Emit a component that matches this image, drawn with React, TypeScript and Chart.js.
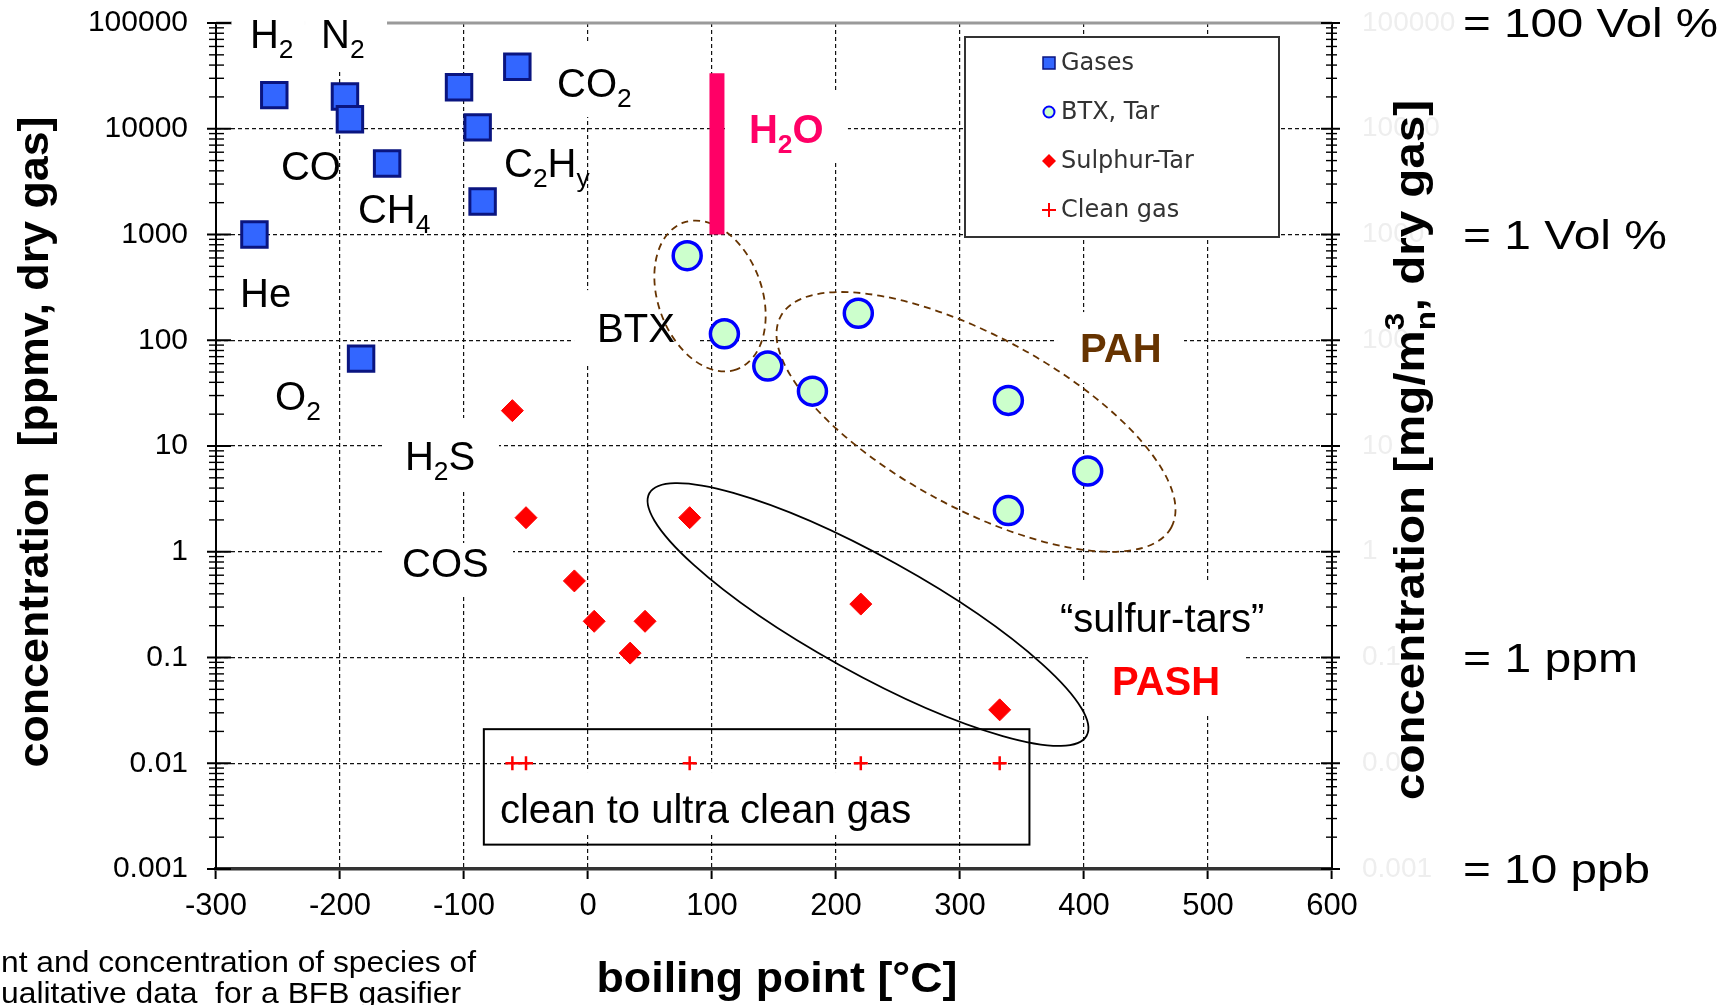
import React, { useEffect, useRef } from 'react';
import { Chart, registerables } from 'chart.js';

Chart.register(...registerables);

// ---------------- data ----------------
const seriesNames = ['Gases', 'BTX, Tar', 'Sulphur-Tar', 'Clean gas'];

// He, H2, N2, CO, O2, CH4, C2H4, C2H6, C2H2, CO2
const gasBoilingPoints = [-269, -253, -196, -192, -183, -162, -104, -89, -85, -57];
const gasConcentrations = [1000, 20800, 20200, 12300, 67, 4700, 24700, 10300, 2050, 38500];

const tarBoilingPoints = [80, 110, 145, 181, 218, 339, 339, 403];
const tarConcentrations = [630, 115, 57, 33, 180, 27, 2.45, 5.8];

const sulphurBoilingPoints = [-61, -50, -11, 5, 34, 46, 82, 220, 332];
const sulphurConcentrations = [21.6, 2.1, 0.53, 0.22, 0.11, 0.22, 2.1, 0.32, 0.032];

const cleanBoilingPoints = [-61, -50, 82, 220, 332];
const cleanConcentrations = [0.01, 0.01, 0.01, 0.01, 0.01];

const waterBoilingPoint = 104;
const waterRange = [1000, 33500];

const xTickLabels = ['-300', '-200', '-100', '0', '100', '200', '300', '400', '500', '600'];
const yTickExponents = [-3, -2, -1, 0, 1, 2, 3, 4, 5];
const yTickLabels = ['0.001', '0.01', '0.1', '1', '10', '100', '1000', '10000', '100000'];

const rightNotes = ['= 100 Vol %', '= 1 Vol %', '= 1 ppm', '= 10 ppb'];
const rightNoteLevels = [100000, 1000, 0.1, 0.001];

// ---------------- styles / annotations ----------------
const SANS = '"Liberation Sans", Arial, Helvetica, sans-serif';
const WIDE = '"DejaVu Sans", Verdana, sans-serif';

type Part = { t: string; s?: 'sub' | 'sup'; stack?: boolean };
type LabelItem = {
  parts: Part[];
  at: [number, number];
  box?: [number, number, number, number];
  bold?: boolean;
  color?: string;
};

const labelItems: LabelItem[] = [
  { parts: [{ t: 'H' }, { t: '2', s: 'sub' }], at: [-272.6, 58000], box: [-18, -40, 55, 22] },
  { parts: [{ t: 'N' }, { t: '2', s: 'sub' }], at: [-215.3, 58000], box: [-16, -40, 66, 22] },
  { parts: [{ t: 'CO' }], at: [-247.6, 3270] },
  { parts: [{ t: 'CH' }, { t: '4', s: 'sub' }], at: [-185.5, 1285] },
  { parts: [{ t: 'He' }], at: [-280.6, 206] },
  { parts: [{ t: 'O' }, { t: '2', s: 'sub' }], at: [-252.4, 21.9] },
  { parts: [{ t: 'CO' }, { t: '2', s: 'sub' }], at: [-25, 19950], box: [-17, -54, 93, 20] },
  { parts: [{ t: 'C' }, { t: '2', s: 'sub' }, { t: 'H' }, { t: 'y', s: 'sub' }], at: [-67.7, 3500] },
  { parts: [{ t: 'H' }, { t: '2', s: 'sub' }, { t: 'O' }], at: [129.8, 7330], box: [-21, -53, 99, 20], bold: true, color: '#ff0066' },
  { parts: [{ t: 'BTX' }], at: [7.3, 96], box: [-23, -52, 100, 21] },
  { parts: [{ t: 'PAH' }], at: [396.8, 62.2], box: [-23, -50, 104, 21], bold: true, color: '#663300' },
  { parts: [{ t: 'H' }, { t: '2', s: 'sub' }, { t: 'S' }], at: [-147.6, 5.93], box: [-20, -52, 94, 20] },
  { parts: [{ t: 'COS' }], at: [-150, 0.577], box: [-19, -34, 111, 20] },
  { parts: [{ t: '\u201csulfur-tars\u201d' }], at: [380.6, 0.174], box: [-25, -52, 235, 25] },
  { parts: [{ t: 'PASH' }], at: [422.6, 0.0442], box: [-24, -38, 133, 20], bold: true, color: '#ff0000' },
  { parts: [{ t: 'clean to ultra clean gas' }], at: [-71, 0.00272], box: [-10, -51, 448, 9] },
];

const ellipses = [
  { at: [98.4, 262], rx: 78, ry: 52, angle: 70, color: '#663300', dash: [7, 5] },
  { at: [312.9, 16.9], rx: 222, ry: 86, angle: 28.4, color: '#663300', dash: [7, 5] },
  { at: [225.8, 0.255], rx: 250, ry: 58, angle: 29, color: '#000000', dash: [] as number[] },
];

const cleanBox = { x0: -84, x1: 356, y0: 0.021, y1: 0.0017 };

// ---------------- helpers ----------------
function fnt(size: number, bold: boolean, family: string) {
  return `${bold ? 'bold ' : ''}${size}px ${family}`;
}

function measureParts(ctx: CanvasRenderingContext2D, parts: Part[], size: number, bold: boolean, family: string) {
  let w = 0;
  let prevW = 0;
  for (const p of parts) {
    const sz = p.s ? size * 0.66 : size;
    ctx.font = fnt(sz, bold, family);
    const pw = ctx.measureText(p.t).width;
    if (p.stack) {
      w += Math.max(0, pw - prevW);
      prevW = Math.max(pw, prevW);
    } else {
      w += pw;
      prevW = pw;
    }
  }
  return w;
}

function drawParts(ctx: CanvasRenderingContext2D, parts: Part[], x: number, y: number, size: number, bold: boolean, family: string) {
  let cx = x;
  let lastStart = x;
  let prevW = 0;
  for (const p of parts) {
    const sz = p.s ? size * 0.66 : size;
    ctx.font = fnt(sz, bold, family);
    const pw = ctx.measureText(p.t).width;
    const dy = p.s === 'sub' ? size * 0.25 : p.s === 'sup' ? -size * 0.48 : 0;
    if (p.stack) {
      ctx.fillText(p.t, lastStart, y + dy);
      cx = lastStart + Math.max(prevW, pw);
      prevW = Math.max(prevW, pw);
    } else {
      ctx.fillText(p.t, cx, y + dy);
      lastStart = cx;
      prevW = pw;
      cx += pw;
    }
  }
}

function drawRich(
  ctx: CanvasRenderingContext2D,
  parts: Part[],
  x: number,
  y: number,
  o: { size: number; bold?: boolean; family: string; color: string; align?: 'left' | 'center'; width?: number; rotate?: number }
) {
  const bold = !!o.bold;
  const natural = measureParts(ctx, parts, o.size, bold, o.family);
  const sx = o.width ? o.width / natural : 1;
  ctx.save();
  ctx.translate(x, y);
  if (o.rotate) ctx.rotate(o.rotate);
  ctx.scale(sx, 1);
  ctx.fillStyle = o.color;
  ctx.textAlign = 'left';
  ctx.textBaseline = 'alphabetic';
  const startX = o.align === 'center' ? -natural / 2 : 0;
  drawParts(ctx, parts, startX, 0, o.size, bold, o.family);
  ctx.restore();
}

function isDecade(v: number) {
  const e = Math.log10(v);
  return Math.abs(e - Math.round(e)) < 1e-6;
}

function decadeLabel(v: number) {
  if (!isDecade(v)) return '';
  const i = yTickExponents.indexOf(Math.round(Math.log10(v)));
  return i >= 0 ? yTickLabels[i] : '';
}

function line(ctx: CanvasRenderingContext2D, x1: number, y1: number, x2: number, y2: number) {
  ctx.beginPath();
  ctx.moveTo(x1, y1);
  ctx.lineTo(x2, y2);
  ctx.stroke();
}

function drawSymbol(ctx: CanvasRenderingContext2D, style: string, x: number, y: number) {
  ctx.save();
  ctx.setLineDash([]);
  if (style === 'rect') {
    ctx.fillStyle = '#3366ff';
    ctx.strokeStyle = '#0a1580';
    ctx.lineWidth = 1.5;
    ctx.fillRect(x - 6, y - 6, 12, 12);
    ctx.strokeRect(x - 6, y - 6, 12, 12);
  } else if (style === 'circle') {
    ctx.fillStyle = '#ccffcc';
    ctx.strokeStyle = '#0000ff';
    ctx.lineWidth = 2;
    ctx.beginPath();
    ctx.arc(x, y, 5.5, 0, Math.PI * 2);
    ctx.fill();
    ctx.stroke();
  } else if (style === 'rectRot') {
    ctx.fillStyle = '#ff0000';
    ctx.beginPath();
    ctx.moveTo(x, y - 7);
    ctx.lineTo(x + 7, y);
    ctx.lineTo(x, y + 7);
    ctx.lineTo(x - 7, y);
    ctx.closePath();
    ctx.fill();
  } else {
    ctx.strokeStyle = '#ff0000';
    ctx.lineWidth = 2;
    line(ctx, x - 7, y, x + 7, y);
    line(ctx, x, y - 7, x, y + 7);
  }
  ctx.restore();
}

const decorPlugin = {
  id: 'decor',
  beforeDatasetsDraw(chart: any) {
    const { ctx, chartArea: ca, scales } = chart;
    const xs = scales.x;
    const ys = scales.y;
    ctx.save();
    ctx.setLineDash([]);
    // top frame line
    ctx.strokeStyle = '#9a9a9a';
    ctx.lineWidth = 3;
    line(ctx, ca.left, ca.top, ca.right, ca.top);

    // double sided log ticks on both vertical axes
    ctx.strokeStyle = '#000';
    for (let e = -3; e <= 5; e++) {
      for (let s = 1; s <= 9; s++) {
        if (e === 5 && s > 1) break;
        const py = ys.getPixelForValue(s * Math.pow(10, e));
        const major = s === 1;
        ctx.lineWidth = major ? 2 : 1.4;
        line(ctx, ca.left - (major ? 9 : 7), py, ca.left + (major ? 15 : 8), py);
        line(ctx, ca.right - (major ? 11 : 6), py, ca.right + (major ? 8 : 5), py);
      }
    }

    // white backgrounds behind labels
    ctx.fillStyle = '#ffffff';
    for (const l of labelItems) {
      if (!l.box) continue;
      const px = xs.getPixelForValue(l.at[0]);
      const py = ys.getPixelForValue(l.at[1]);
      const [a, b, c, d] = l.box;
      ctx.fillRect(px + a, py + b, c - a, d - b);
    }

    // clean gas frame
    ctx.strokeStyle = '#000';
    ctx.lineWidth = 2;
    const bx0 = xs.getPixelForValue(cleanBox.x0);
    const bx1 = xs.getPixelForValue(cleanBox.x1);
    const by0 = ys.getPixelForValue(cleanBox.y0);
    const by1 = ys.getPixelForValue(cleanBox.y1);
    ctx.strokeRect(bx0, by0, bx1 - bx0, by1 - by0);

    // grouping ellipses
    for (const el of ellipses) {
      const cx = xs.getPixelForValue(el.at[0]);
      const cy = ys.getPixelForValue(el.at[1]);
      ctx.strokeStyle = el.color;
      ctx.lineWidth = 1.8;
      ctx.setLineDash(el.dash);
      ctx.beginPath();
      ctx.ellipse(cx, cy, el.rx, el.ry, (el.angle * Math.PI) / 180, 0, Math.PI * 2);
      ctx.stroke();
    }
    ctx.restore();
  },
  afterDatasetsDraw(chart: any) {
    const { ctx, chartArea: ca, scales } = chart;
    const xs = scales.x;
    const ys = scales.y;
    ctx.save();
    ctx.setLineDash([]);

    // in-plot labels
    for (const l of labelItems) {
      const px = xs.getPixelForValue(l.at[0]);
      const py = ys.getPixelForValue(l.at[1]);
      drawRich(ctx, l.parts, px, py, {
        size: 40,
        bold: !!l.bold,
        family: SANS,
        color: l.color || '#000000',
      });
    }

    // legend
    const lx0 = ca.right - 367;
    const ly0 = ca.top + 14;
    const lx1 = ca.right - 53;
    const ly1 = ca.top + 214;
    ctx.fillStyle = '#ffffff';
    ctx.fillRect(lx0, ly0, lx1 - lx0, ly1 - ly0);
    ctx.strokeStyle = '#333333';
    ctx.lineWidth = 2;
    ctx.strokeRect(lx0, ly0, lx1 - lx0, ly1 - ly0);
    const ds = chart.data.datasets.slice(0, 4);
    ds.forEach((d: any, i: number) => {
      const cy = ly0 + 26 + i * 49;
      const cx = lx0 + 84;
      drawSymbol(ctx, d.pointStyle, cx, cy);
      ctx.fillStyle = '#333333';
      ctx.font = fnt(24, false, WIDE);
      ctx.textAlign = 'left';
      ctx.textBaseline = 'middle';
      ctx.fillText(d.label, cx + 12, cy + 1);
    });

    // axis titles
    drawRich(ctx, [{ t: 'concentration  [ppmv, dry gas]' }], 48, (ca.top + ca.bottom) / 2 - 4, {
      size: 42,
      bold: true,
      family: SANS,
      color: '#000',
      align: 'center',
      width: 651,
      rotate: -Math.PI / 2,
    });
    drawRich(
      ctx,
      [{ t: 'concentration [mg/m' }, { t: 'n', s: 'sub' }, { t: '3', s: 'sup', stack: true }, { t: ', dry gas]' }],
      ca.right + 92,
      (ca.top + ca.bottom) / 2 + 4,
      { size: 42, bold: true, family: SANS, color: '#000', align: 'center', width: 700, rotate: -Math.PI / 2 }
    );
    drawRich(ctx, [{ t: 'boiling point [\u00b0C]' }], (ca.left + ca.right) / 2 + 3, 992, {
      size: 43,
      bold: true,
      family: SANS,
      color: '#000',
      align: 'center',
      width: 361,
    });

    // right-hand equivalence notes
    const noteWidths = [255, 204, 175, 187];
    rightNotes.forEach((t, i) => {
      const py = ys.getPixelForValue(rightNoteLevels[i]);
      drawRich(ctx, [{ t }], ca.right + 131, py + 14, {
        size: 40,
        family: SANS,
        color: '#000',
        width: noteWidths[i],
      });
    });

    // clipped figure caption
    drawRich(ctx, [{ t: 'nt and concentration of species of' }], 1, 972, { size: 29, family: SANS, color: '#000', width: 475 });
    drawRich(ctx, [{ t: 'ualitative data  for a BFB gasifier' }], 1, 1003, { size: 29, family: SANS, color: '#000', width: 460 });

    ctx.restore();
  },
};

export default function App() {
  const ref = useRef<HTMLCanvasElement | null>(null);

  useEffect(() => {
    document.body.style.margin = '0';
    document.body.style.overflow = 'hidden';
    const canvas = ref.current;
    if (!canvas) return;

    const pts = (xs: number[], ys: number[]) => xs.map((x, i) => ({ x, y: ys[i] }));

    const chart = new Chart(canvas, {
      type: 'scatter',
      data: {
        datasets: [
          {
            label: seriesNames[0],
            data: pts(gasBoilingPoints, gasConcentrations),
            pointStyle: 'rect',
            pointRadius: 18,
            backgroundColor: '#3366ff',
            borderColor: '#0a1580',
            borderWidth: 3,
          },
          {
            label: seriesNames[1],
            data: pts(tarBoilingPoints, tarConcentrations),
            pointStyle: 'circle',
            pointRadius: 14,
            backgroundColor: '#ccffcc',
            borderColor: '#0000ff',
            borderWidth: 3.5,
          },
          {
            label: seriesNames[2],
            data: pts(sulphurBoilingPoints, sulphurConcentrations),
            pointStyle: 'rectRot',
            pointRadius: 11,
            backgroundColor: '#ff0000',
            borderColor: '#ff0000',
            borderWidth: 1,
          },
          {
            label: seriesNames[3],
            data: pts(cleanBoilingPoints, cleanConcentrations),
            pointStyle: 'cross',
            pointRadius: 7,
            backgroundColor: '#ff0000',
            borderColor: '#ff0000',
            borderWidth: 2.5,
          },
          {
            label: 'H2O',
            data: [
              { x: waterBoilingPoint, y: waterRange[0] },
              { x: waterBoilingPoint, y: waterRange[1] },
            ],
            showLine: true,
            borderColor: '#ff0066',
            backgroundColor: '#ff0066',
            borderWidth: 15,
            borderCapStyle: 'butt',
            pointRadius: 0,
          } as any,
        ],
      },
      options: {
        responsive: false,
        maintainAspectRatio: false,
        devicePixelRatio: 1,
        animation: false,
        events: [],
        layout: { padding: { top: 23, left: 0, right: 0, bottom: 0 } },
        plugins: { legend: { display: false }, tooltip: { enabled: false } },
        scales: {
          x: {
            type: 'linear',
            min: -300,
            max: 600,
            ticks: {
              stepSize: 100,
              color: '#000',
              padding: 9,
              font: { size: 31, family: SANS },
              callback: (v: any) => {
                const i = Math.round((Number(v) + 300) / 100);
                return xTickLabels[i] ?? '';
              },
            },
            grid: {
              color: (c: any) =>
                c.tick && (c.tick.value <= -300 || c.tick.value >= 600) ? 'rgba(0,0,0,0)' : '#111111',
              lineWidth: 1.2,
              tickColor: '#000',
              tickLength: 10,
              tickWidth: 2,
            },
            border: { display: true, color: '#333333', width: 3.5, dash: [4, 3] },
            afterFit: (s: any) => {
              s.height = 136;
            },
          },
          y: {
            type: 'logarithmic',
            position: 'left',
            min: 0.001,
            max: 100000,
            ticks: {
              autoSkip: false,
              color: '#000',
              padding: 0,
              font: { size: 30, family: SANS },
              callback: (v: any) => decadeLabel(Number(v)),
            },
            grid: {
              color: (c: any) => {
                const v = c.tick ? c.tick.value : 0;
                return c.tick && isDecade(v) && v > 0.0011 && v < 99999 ? '#111111' : 'rgba(0,0,0,0)';
              },
              lineWidth: 1.2,
              drawTicks: true,
              tickLength: 28,
              tickColor: 'rgba(0,0,0,0)',
            },
            border: { display: true, color: '#000', width: 2, dash: [4, 3] },
            afterFit: (s: any) => {
              s.width = 216;
            },
          },
          y2: {
            type: 'logarithmic',
            position: 'right',
            min: 0.001,
            max: 100000,
            ticks: {
              autoSkip: false,
              color: '#eeeeee',
              padding: 0,
              font: { size: 28, family: SANS },
              callback: (v: any) => decadeLabel(Number(v)),
            },
            grid: { drawOnChartArea: false, drawTicks: true, tickLength: 30, tickColor: 'rgba(0,0,0,0)' },
            border: { display: true, color: '#000', width: 2 },
            afterFit: (s: any) => {
              s.width = 398;
            },
          },
        },
      } as any,
      plugins: [decorPlugin],
    });

    return () => {
      chart.destroy();
    };
  }, []);

  return (
    <div style={{ width: 1730, height: 1005, background: '#ffffff', overflow: 'hidden' }}>
      <canvas ref={ref} width={1730} height={1005} style={{ display: 'block' }} />
    </div>
  );
}
